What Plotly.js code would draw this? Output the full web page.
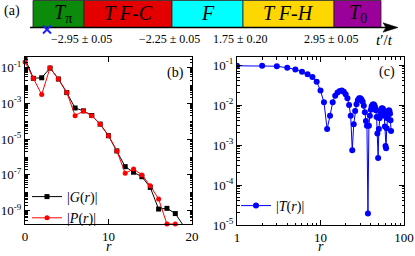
<!DOCTYPE html>
<html>
<head>
<meta charset="utf-8">
<script src="https://cdn.plot.ly/plotly-3.0.1.min.js"></script>
<style>html,body{margin:0;padding:0;background:#fff;}#chart{width:415px;height:256px;}</style>
</head>
<body>
<div id="chart"></div>
<script>
// ---------- data ----------
// panel (a): phases and boundary values of t'/t
const phaseNames = ['<i>T</i><sub>π</sub>', '<i>T F</i>-<i>C</i>', '<i>F</i>', '<i>T F</i>-<i>H</i>', '<i>T</i><sub>0</sub>'];
const boundaryLabels = ['\u22122.95 \u00b1 0.05', '\u22122.25 \u00b1 0.05', '1.75 \u00b1 0.20', '2.95 \u00b1 0.05'];

// panel (b): |G(r)| and |P(r)|
const rG = [0,1,2,3,4,5,6,7,8,9,10,11,12,13,14,15,16,17,18,19];
const G  = [3.16e-1,2.51e-2,2.69e-2,9.33e-2,2.29e-2,3.98e-3,5.5e-4,3.8e-4,2.09e-4,6.9e-5,1.55e-5,2.19e-6,2.88e-7,1.41e-7,7.9e-8,2.0e-8,1.23e-9,1.35e-9,6.9e-10,1.4e-10];
const rP = [0,1,2,3,4,5,6,7,8,9,10,11,12,13,14,15,16,17,18];
const P  = [2.04e-1,2.51e-2,3.09e-3,9.77e-2,2.29e-2,4.07e-3,2.04e-4,3.7e-4,2.0e-4,6.8e-5,1.55e-5,2.19e-6,1.23e-7,2.14e-7,1.0e-7,2.5e-8,4.5e-9,1.8e-10,1.8e-10];

// panel (c): |T(r)|
const rT = [1,2,3,4,5,6,7,8,9,10,11,12,13,14,15,16,17,18,19,20,21,22,23,24,25,26,27,28,29,30,31,32,33,34,35,36,37,38,39,40,41,42,43,44,45,46,47,48,49,50,51,52,53,54,55,56,57,58,59,60,61,62,63,64,65,66,67,68,69,70];
const T  = [0.0955,0.0955,0.0933,0.0851,0.0776,0.0676,0.0589,0.0501,0.0380,0.0229,
            0.0117,0.00251,0.00537,0.0117,0.0170,0.0204,0.0224,0.0229,0.0214,0.0186,
            0.0148,0.0100,0.00537,7.4e-4,0.00331,0.00708,0.0105,0.0132,0.0148,0.0148,
            0.0138,0.0120,0.00955,0.00661,0.00398,0.00302,1.95e-5,0.00302,0.00537,0.00759,
            0.00933,0.0102,0.0105,0.0100,0.00891,0.00741,0.00501,0.00195,4.7e-4,0.00251,
            0.00468,0.00631,0.00759,0.00813,0.00832,0.00794,0.00708,0.00537,0.00288,9.5e-4,
            8.3e-4,0.00263,0.00468,0.00631,0.00708,0.00741,0.00708,0.00603,0.00417,0.00224];

// tick labels
const ticksB = [1e-1,1e-3,1e-5,1e-7,1e-9];
const ticksBText = ['10<sup>-1</sup>','10<sup>-3</sup>','10<sup>-5</sup>','10<sup>-7</sup>','10<sup>-9</sup>'];
const ticksC = [1e-1,1e-2,1e-3,1e-4,1e-5];
const ticksCText = ['10<sup>-1</sup>','10<sup>-2</sup>','10<sup>-3</sup>','10<sup>-4</sup>','10<sup>-5</sup>'];
const ticksCx = [1,10,100];
const ticksCxText = ['1','10','100'];
const xTitle = '<i>r</i>';

// ---------- layout helpers ----------
const W = 415, H = 256;
const px = x => x / W;
const py = y => 1 - y / H;
const FONT = 'Liberation Serif, Times New Roman, serif';

function minorLog(lo, hi, skip) {
  const v = [];
  for (let n = lo; n < hi; n++) for (let k = 1; k <= 9; k++) {
    const val = k * Math.pow(10, n);
    if (k === 1 && skip(n)) continue;
    v.push(val);
  }
  return v;
}

const segEdges = [33, 84, 172, 243, 334, 381];
const segColors = ['#0b8a0b', '#e50000', '#00ffff', '#ffd700', '#9b009b'];
const barTop = 0.5, barBot = 27.5;

const shapes = [];
const annotations = [];
for (let i = 0; i < phaseNames.length; i++) {
  shapes.push({type:'rect', xref:'paper', yref:'paper',
    x0:px(segEdges[i]), x1:px(segEdges[i+1]), y0:py(barBot), y1:py(barTop),
    fillcolor:segColors[i], line:{color:'#222', width:0.8}, layer:'below'});
  annotations.push({xref:'paper', yref:'paper', x:px((segEdges[i]+segEdges[i+1])/2 + (i===0?4:0)), y:py(13),
    text:phaseNames[i], showarrow:false, xanchor:'center', yanchor:'middle',
    font:{family:FONT, size:20, color:'#000'}});
}
for (let i = 0; i < boundaryLabels.length; i++) {
  annotations.push({xref:'paper', yref:'paper', x:px(segEdges[i+1] - 3), y:py(38.5),
    text:boundaryLabels[i], showarrow:false, xanchor:'center', yanchor:'middle',
    font:{family:FONT, size:12, color:'#000'}});
}
// arrow axis of panel (a)
shapes.push({type:'line', xref:'paper', yref:'paper', x0:px(30), x1:px(388), y0:py(27.5), y1:py(27.5), line:{color:'#000', width:1.5}});
shapes.push({type:'path', xref:'paper', yref:'paper',
  path:`M ${px(383)} ${py(22.8)} L ${px(398)} ${py(27.5)} L ${px(383)} ${py(32.2)} L ${px(386)} ${py(27.5)} Z`,
  fillcolor:'#000', line:{color:'#000', width:0.5}});
// blue cross
shapes.push({type:'line', xref:'paper', yref:'paper', x0:px(43), x1:px(51), y0:py(25.5), y1:py(33.5), line:{color:'#1f1fff', width:2}});
shapes.push({type:'line', xref:'paper', yref:'paper', x0:px(43), x1:px(51), y0:py(33.5), y1:py(25.5), line:{color:'#1f1fff', width:2}});

annotations.push({xref:'paper', yref:'paper', x:px(384), y:py(40), text:'<i>t</i>\u2032/<i>t</i>', showarrow:false,
  xanchor:'center', yanchor:'middle', font:{family:FONT, size:15, color:'#000'}});
annotations.push({xref:'paper', yref:'paper', x:px(12), y:py(11), text:'(a)', showarrow:false,
  xanchor:'center', yanchor:'middle', font:{family:FONT, size:14, color:'#000'}});
annotations.push({xref:'paper', yref:'paper', x:px(175), y:py(73), text:'(b)', showarrow:false,
  xanchor:'center', yanchor:'middle', font:{family:FONT, size:14, color:'#000'}});
annotations.push({xref:'paper', yref:'paper', x:px(387), y:py(72), text:'(c)', showarrow:false,
  xanchor:'center', yanchor:'middle', font:{family:FONT, size:14, color:'#000'}});
// x-axis titles of panels (b) and (c), centred under each axis
annotations.push({xref:'x domain', yref:'paper', x:0.5, y:0, text:xTitle, showarrow:false,
  xanchor:'center', yanchor:'bottom', font:{family:FONT, size:14, color:'#000'}});
annotations.push({xref:'x2 domain', yref:'paper', x:0.5, y:0, text:xTitle, showarrow:false,
  xanchor:'center', yanchor:'bottom', font:{family:FONT, size:14, color:'#000'}});

// ---------- traces ----------
const traces = [
  {x:rG, y:G, xaxis:'x', yaxis:'y', type:'scatter', mode:'lines+markers', name:'|<i>G</i>(<i>r</i>)|',
   line:{color:'#000', width:1}, marker:{symbol:'square', size:5, color:'#000'}, legend:'legend'},
  {x:rP, y:P, xaxis:'x', yaxis:'y', type:'scatter', mode:'lines+markers', name:'|<i>P</i>(<i>r</i>)|',
   line:{color:'#ff0000', width:1}, marker:{symbol:'circle', size:5, color:'#ff0000'}, cliponaxis:false, legend:'legend'},
  {x:rT, y:T, xaxis:'x2', yaxis:'y2', type:'scatter', mode:'lines+markers', name:'|<i>T</i>(<i>r</i>)|',
   line:{color:'#0000ff', width:1}, marker:{symbol:'circle', size:6, color:'#0000ff'}, legend:'legend2'}
];

const axisCommon = {showline:true, linecolor:'#000', linewidth:1, mirror:'allticks', ticks:'inside',
  ticklen:5, tickcolor:'#000', tickwidth:1, showgrid:false, zeroline:false,
  tickfont:{family:FONT, size:13, color:'#000'}};

const layout = {
  width:W, height:H, margin:{l:0, r:0, t:0, b:0},
  paper_bgcolor:'#fff', plot_bgcolor:'#fff',
  font:{family:FONT, color:'#000'},
  showlegend:true,
  xaxis:Object.assign({}, axisCommon, {domain:[px(25), px(192)], range:[0,20], tickvals:[0,10,20], anchor:'y'}),
  yaxis:Object.assign({}, axisCommon, {domain:[py(224), py(57)], type:'log', range:[-9.745,-0.41], anchor:'x',
    tickvals:ticksB, ticktext:ticksBText,
    minor:{tickvals:minorLog(-10, 0, n => (n % 2 !== 0)), ticks:'inside', ticklen:2.5, tickcolor:'#000'}}),
  xaxis2:Object.assign({}, axisCommon, {domain:[px(237), px(404)], type:'log', range:[0,2], anchor:'y2',
    tickvals:ticksCx, ticktext:ticksCxText,
    minor:{tickvals:minorLog(0, 2, n => true), ticks:'inside', ticklen:2.5, tickcolor:'#000'}}),
  yaxis2:Object.assign({}, axisCommon, {domain:[py(225), py(57)], type:'log', range:[-5,-0.8], anchor:'x2',
    tickvals:ticksC, ticktext:ticksCText,
    minor:{tickvals:minorLog(-5, -1, n => true), ticks:'inside', ticklen:2.5, tickcolor:'#000'}}),
  legend:{x:px(27), y:py(181), xanchor:'left', yanchor:'top', bgcolor:'rgba(0,0,0,0)',
    font:{family:FONT, size:14, color:'#000'}, tracegroupgap:0, itemwidth:30},
  legend2:{x:px(236), y:py(190), xanchor:'left', yanchor:'top', bgcolor:'rgba(0,0,0,0)',
    font:{family:FONT, size:14, color:'#000'}, itemwidth:30},
  shapes:shapes,
  annotations:annotations
};

Plotly.newPlot('chart', traces, layout, {staticPlot:true, displayModeBar:false});
</script>
</body>
</html>
